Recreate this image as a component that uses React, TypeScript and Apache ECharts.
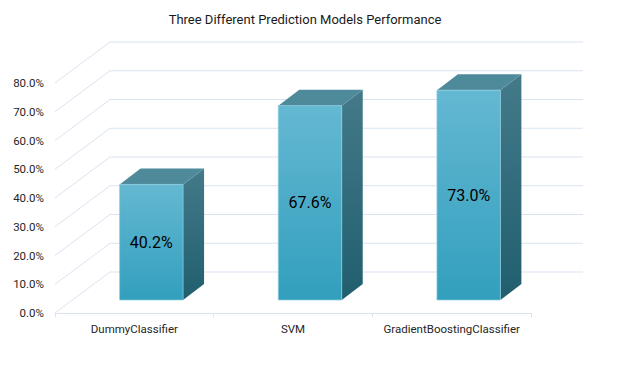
import React, { useEffect, useRef } from "react";
import * as echarts from "echarts";

const title = "Three Different Prediction Models Performance";
const categories = ["DummyClassifier", "SVM", "GradientBoostingClassifier"];
const accuracy = [40.2, 67.6, 73.0];
const gridTicks = [0, 10, 20, 30, 40, 50, 60, 70, 80];

const GRID_COLOR = "#d9e3f2";

export default function App() {
  const ref = useRef<HTMLDivElement>(null);
  useEffect(() => {
    if (!ref.current) return;
    const chart = echarts.init(ref.current, null, { renderer: "svg" });
    const font = "Roboto";
    chart.setOption({
      animation: false,
      backgroundColor: "#ffffff",
      title: {
        text: title,
        left: 300,
        textAlign: "center",
        top: 8,
        textStyle: { fontFamily: font, fontSize: 13, fontWeight: "normal", color: "#1a1a1a" },
      },
      grid: { left: 55, right: 102, top: 83, bottom: 56 },
      xAxis: {
        type: "category",
        data: categories,
        axisLine: { lineStyle: { color: GRID_COLOR, width: 1 } },
        axisTick: { show: true, length: 4, lineStyle: { color: GRID_COLOR } },
        axisLabel: { color: "#262626", fontFamily: font, fontSize: 11.5, margin: 10, interval: 0 },
        splitLine: { show: false },
      },
      yAxis: {
        type: "value",
        min: 0,
        max: 80,
        interval: 10,
        axisLine: { show: false },
        axisTick: { show: false },
        splitLine: { show: false },
        axisLabel: {
          color: "#262626",
          fontFamily: font,
          fontSize: 11.5,
          margin: 11,
          formatter: (v: number) => v.toFixed(1) + "%",
        },
      },
      series: [
        {
          type: "custom",
          clip: false,
          z: 1,
          silent: true,
          data: gridTicks.map((v) => [0, v]),
          encode: { x: 0, y: 1 },
          renderItem: (params: any, api: any) => {
            const cs = params.coordSys;
            const y = api.coord([0, api.value(1)])[1];
            const x0 = cs.x;
            const x1 = cs.x + cs.width;
            const bx = 55;
            const by = 41;
            return {
              type: "group",
              children: [
                {
                  type: "line",
                  shape: { x1: x0, y1: y, x2: x0 + bx, y2: y - by },
                  style: { stroke: GRID_COLOR, lineWidth: 1 },
                },
                {
                  type: "line",
                  shape: { x1: x0 + bx, y1: y - by, x2: x1 + 52, y2: y - by },
                  style: { stroke: GRID_COLOR, lineWidth: 1 },
                },
              ],
            };
          },
        },
        {
          type: "custom",
          clip: false,
          z: 2,
          data: accuracy.map((v, i) => [i, v]),
          encode: { x: 0, y: 1 },
          renderItem: (params: any, api: any) => {
            const idx = api.value(0);
            const val = api.value(1);
            const base = api.coord([idx, 0]);
            const top = api.coord([idx, val]);
            const w = api.size([1, 0])[0] * 0.4;
            const fx = 17;
            const fy = 13;
            const ddx = 21;
            const ddy = 16;
            const xl = base[0] + fx - w / 2;
            const xr = xl + w;
            const yb = base[1] - fy;
            const yt = top[1] - fy;
            return {
              type: "group",
              children: [
                {
                  type: "polygon",
                  shape: {
                    points: [
                      [xr, yt],
                      [xr + ddx, yt - ddy],
                      [xr + ddx, yb - ddy],
                      [xr, yb],
                    ],
                  },
                  style: {
                    fill: new echarts.graphic.LinearGradient(0, 0, 0, 1, [
                      { offset: 0, color: "#447a8a" },
                      { offset: 1, color: "#205e6e" },
                    ]),
                  },
                },
                {
                  type: "polygon",
                  shape: {
                    points: [
                      [xl, yt],
                      [xr, yt],
                      [xr + ddx, yt - ddy],
                      [xl + ddx, yt - ddy],
                    ],
                  },
                  style: { fill: "#4f8a9b" },
                },
                {
                  type: "rect",
                  shape: { x: xl, y: yt, width: w, height: yb - yt },
                  style: {
                    fill: new echarts.graphic.LinearGradient(0, 0, 0, 1, [
                      { offset: 0, color: "#64b8d2" },
                      { offset: 1, color: "#329fbd" },
                    ]),
                    stroke: "rgba(140,205,225,0.7)",
                    lineWidth: 1,
                  },
                },
                {
                  type: "text",
                  style: {
                    text: val.toFixed(1) + "%",
                    x: xl + w / 2,
                    y: (yt + yb) / 2,
                    align: "center",
                    verticalAlign: "middle",
                    fill: "#000000",
                    fontFamily: font,
                    fontSize: 16,
                  },
                },
              ],
            };
          },
        },
      ],
    });
    return () => chart.dispose();
  }, []);
  return (
    <div
      ref={ref}
      style={{ position: "fixed", left: 0, top: 0, width: 633, height: 369 }}
    />
  );
}
